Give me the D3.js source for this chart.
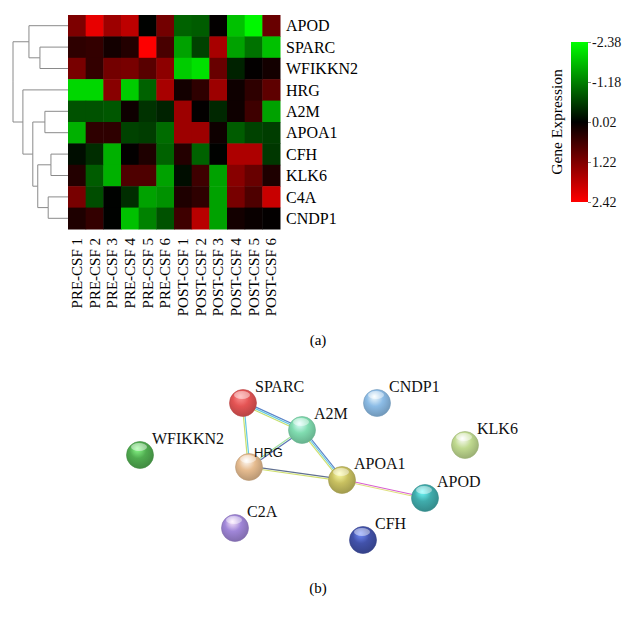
<!DOCTYPE html>
<html>
<head>
<meta charset="utf-8">
<script src="https://cdn.jsdelivr.net/npm/d3@7"></script>
<style>
  body { margin: 0; background: #fff; }
  svg { display: block; font-family: "Liberation Serif", "DejaVu Serif", serif; }
</style>
</head>
<body>
<svg id="chart" width="635" height="620"></svg>
<script>
// ---- heatmap data ----
var samples = ['PRE-CSF 1','PRE-CSF 2','PRE-CSF 3','PRE-CSF 4','PRE-CSF 5','PRE-CSF 6',
               'POST-CSF 1','POST-CSF 2','POST-CSF 3','POST-CSF 4','POST-CSF 5','POST-CSF 6'];
var genes = ['APOD','SPARC','WFIKKN2','HRG','A2M','APOA1','CFH','KLK6','C4A','CNDP1'];
var expression = [
  [ 1.2,  2.2,  1.5,  1.8,  0.0,  1.1, -0.9, -0.85, 0.05, -1.8, -2.3,  1.0],
  [ 0.45, 0.5,  0.2,  0.35, 2.4,  0.7, -1.5, -0.6,  1.6, -1.5, -1.05, -1.8],
  [ 1.15, 0.5,  1.1,  1.15, 0.85, 1.35,-1.9, -2.1,  1.0, -0.3,  0.05,  0.2],
  [-2.0, -2.0,  1.3, -1.9, -0.9,  1.6,  0.2,  0.45, 1.5,  0.15, 0.45,  0.9],
  [-0.75,-0.75,-0.8,  0.15,-0.45,-0.3,  1.5,  0.05,-0.35, 0.15, 0.6,  -1.5],
  [-1.65, 0.45, 0.45,-0.6, -0.55,-1.0,  1.5,  1.5,  0.15,-0.85,-0.6,  -0.55],
  [-0.1, -0.4, -1.65, 0.05, 0.3, -0.9,  0.35,-0.9,  0.0,  1.65, 1.65, -0.5],
  [ 0.35,-0.85,-1.65, 0.75, 0.75,-1.5, -0.1,  0.6, -1.5,  1.3,  1.0,   0.3],
  [ 1.15,-0.7,  0.0, -0.4, -1.5, -1.35, 0.3,  0.45,-1.5,  1.15, 0.75,  1.9],
  [ 0.3,  0.5,  0.0, -1.8, -1.2, -0.75, 0.6,  1.75,-1.5,  0.2,  0.1,   0.05]
];
var colorTicks = [-2.38, -1.18, 0.02, 1.22, 2.42];

// row clustering (merge distances)
var dendro = {h: 1.0, children: [
  {h: 0.71, children: [
    {name: 'APOD'},
    {h: 0.51, children: [{name: 'SPARC'}, {name: 'WFIKKN2'}]}
  ]},
  {h: 0.82, children: [
    {name: 'HRG'},
    {h: 0.64, children: [
      {h: 0.42, children: [{name: 'A2M'}, {name: 'APOA1'}]},
      {h: 0.55, children: [
        {h: 0.31, children: [{name: 'CFH'}, {name: 'KLK6'}]},
        {h: 0.36, children: [{name: 'C4A'}, {name: 'CNDP1'}]}
      ]}
    ]}
  ]}
]};

// ---- network data ----
var proteins = ['SPARC','A2M','CNDP1','WFIKKN2','HRG','APOA1','KLK6','APOD','C2A','CFH'];
var nodeX = [143, 202, 277, 40, 149, 242, 365, 325, 135, 263];
var nodeY = [33, 60, 33, 85, 97, 110, 75, 128, 158, 170];
var nodeColors = ['#e45454','#80dcb0','#8cbce6','#50ac50','#e6bc90','#c8c060','#c0da90','#40acac','#a086d8','#4252aa'];
var linkSource = ['SPARC','SPARC','A2M','A2M','HRG','APOA1'];
var linkTarget = ['A2M','HRG','HRG','APOA1','APOA1','APOD'];
var linkColors = [
  ['#5a84c8','#64c8e4','#c4e070'],
  ['#64c8e4','#c8e070'],
  ['#5a74b4','#a4e0a0'],
  ['#5a84c8','#64c8e4','#d0e070'],
  ['#607090','#d0e070'],
  ['#d860d0','#e0e080']
];

var svg = d3.select('#chart');

// ---- heatmap ----
var x = d3.scaleBand().domain(samples).range([68, 280]);
var y = d3.scaleBand().domain(genes).range([15, 229]);
var color = d3.scaleLinear()
  .domain([-2.38, 0.02, 2.42])
  .range(['#00ff00', '#000000', '#ff0000']);

var cells = [];
expression.forEach(function(row, i) {
  row.forEach(function(v, j) {
    cells.push({gene: genes[i], sample: samples[j], value: v});
  });
});

svg.append('g').selectAll('rect')
  .data(cells)
  .enter().append('rect')
  .attr('x', d => x(d.sample))
  .attr('y', d => y(d.gene))
  .attr('width', x.bandwidth() + 0.5)
  .attr('height', y.bandwidth() + 0.5)
  .attr('fill', d => color(d.value));

// gene labels
svg.append('g').selectAll('text')
  .data(genes)
  .enter().append('text')
  .attr('x', 286)
  .attr('y', d => y(d) + y.bandwidth() / 2)
  .attr('dy', '0.35em')
  .style('font-size', '16px')
  .text(d => d);

// sample labels
svg.append('g').selectAll('text')
  .data(samples)
  .enter().append('text')
  .attr('transform', d => `translate(${x(d) + x.bandwidth() / 2}, 238) rotate(-90)`)
  .attr('dy', '0.35em')
  .attr('text-anchor', 'end')
  .style('font-size', '15px')
  .text(d => d);

// dendrogram
var root = d3.hierarchy(dendro);
var dx = d3.scaleLinear().domain([0, 1]).range([68, 13]);
root.eachAfter(function(n) {
  if (!n.children) {
    n.py = y(n.data.name) + y.bandwidth() / 2;
    n.px = dx(0);
  } else {
    n.py = d3.mean(n.children, c => c.py);
    n.px = dx(n.data.h);
  }
});
var dendroG = svg.append('g')
  .attr('fill', 'none')
  .attr('stroke', '#8a8a8a')
  .attr('stroke-width', 1);
root.descendants().filter(n => n.children).forEach(function(n) {
  n.children.forEach(function(c) {
    dendroG.append('path')
      .attr('d', `M${n.px},${n.py}V${c.py}H${c.px}`);
  });
});

// colour bar
var cy = d3.scaleLinear().domain([-2.38, 2.42]).range([42, 202]);
var grad = svg.append('defs').append('linearGradient')
  .attr('id', 'cbar')
  .attr('x1', 0).attr('y1', 0).attr('x2', 0).attr('y2', 1);
d3.range(0, 1.0001, 0.1).forEach(function(t) {
  grad.append('stop')
    .attr('offset', t)
    .attr('stop-color', color(-2.38 + t * 4.8));
});
svg.append('rect')
  .attr('x', 571).attr('y', cy(-2.38))
  .attr('width', 17).attr('height', cy(2.42) - cy(-2.38))
  .attr('fill', 'url(#cbar)');

var cAxis = svg.append('g')
  .attr('transform', 'translate(588,0)')
  .call(d3.axisRight(cy).tickValues(colorTicks).tickSize(3).tickFormat(d => d.toFixed(2)));
cAxis.select('.domain').remove();
cAxis.selectAll('line').attr('stroke', '#888');
cAxis.selectAll('text')
  .attr('x', 4)
  .style('font-family', '"Liberation Serif", serif')
  .style('font-size', '14px')
  .attr('fill', '#111');

svg.append('text')
  .attr('transform', 'translate(557,122) rotate(-90)')
  .attr('text-anchor', 'middle')
  .attr('dy', '0.35em')
  .style('font-size', '15.5px')
  .text('Gene Expression');

svg.append('text')
  .attr('x', 318).attr('y', 345)
  .attr('text-anchor', 'middle')
  .style('font-size', '15px')
  .text('(a)');

// ---- network ----
var nx = d3.scaleLinear().domain([0, 400]).range([100, 500]);
var ny = d3.scaleLinear().domain([0, 200]).range([370, 570]);
var nodes = proteins.map(function(p, i) {
  return {name: p, x: nx(nodeX[i]), y: ny(nodeY[i]), color: nodeColors[i]};
});
var byName = {};
nodes.forEach(n => byName[n.name] = n);

var defs = svg.select('defs');
nodes.forEach(function(n, i) {
  var g = defs.append('radialGradient')
    .attr('id', 'ball' + i)
    .attr('cx', '45%').attr('cy', '40%').attr('r', '60%')
    .attr('fx', '40%').attr('fy', '25%');
  g.append('stop').attr('offset', '0%').attr('stop-color', d3.color(n.color).brighter(1.6));
  g.append('stop').attr('offset', '50%').attr('stop-color', n.color);
  g.append('stop').attr('offset', '100%').attr('stop-color', d3.color(n.color).darker(0.6));
});

var linkG = svg.append('g').attr('fill', 'none');
linkSource.forEach(function(s, i) {
  var a = byName[s], b = byName[linkTarget[i]];
  var len = Math.hypot(b.x - a.x, b.y - a.y);
  var ox = -(b.y - a.y) / len, oy = (b.x - a.x) / len;
  var cols = linkColors[i];
  cols.forEach(function(c, k) {
    var off = (k - (cols.length - 1) / 2) * 1.6;
    linkG.append('line')
      .attr('x1', a.x + ox * off).attr('y1', a.y + oy * off)
      .attr('x2', b.x + ox * off).attr('y2', b.y + oy * off)
      .attr('stroke', c)
      .attr('stroke-width', 1.2);
  });
});

var nodeG = svg.append('g').selectAll('g')
  .data(nodes)
  .enter().append('g')
  .attr('transform', d => `translate(${d.x},${d.y})`);
nodeG.append('circle')
  .attr('r', 13.5)
  .attr('fill', (d, i) => `url(#ball${i})`)
  .attr('stroke', d => d3.color(d.color).darker(0.6))
  .attr('stroke-width', 0.6);
// highlight
nodeG.append('ellipse')
  .attr('cx', -1).attr('cy', -8)
  .attr('rx', 8).attr('ry', 4)
  .attr('fill', 'white')
  .attr('opacity', 0.45);

svg.append('g').selectAll('text')
  .data(nodes)
  .enter().append('text')
  .attr('x', d => d.x + (d.name === 'HRG' ? 5 : 12))
  .attr('y', d => d.y + (d.name === 'HRG' ? -10 : -11))
  .style('font-family', d => d.name === 'HRG' ? '"Liberation Sans", Arial, sans-serif' : null)
  .style('font-size', d => d.name === 'HRG' ? '13px' : '16px')
  .attr('fill', '#111')
  .text(d => d.name);

svg.append('text')
  .attr('x', 318).attr('y', 593)
  .attr('text-anchor', 'middle')
  .style('font-size', '15px')
  .text('(b)');
</script>
</body>
</html>
